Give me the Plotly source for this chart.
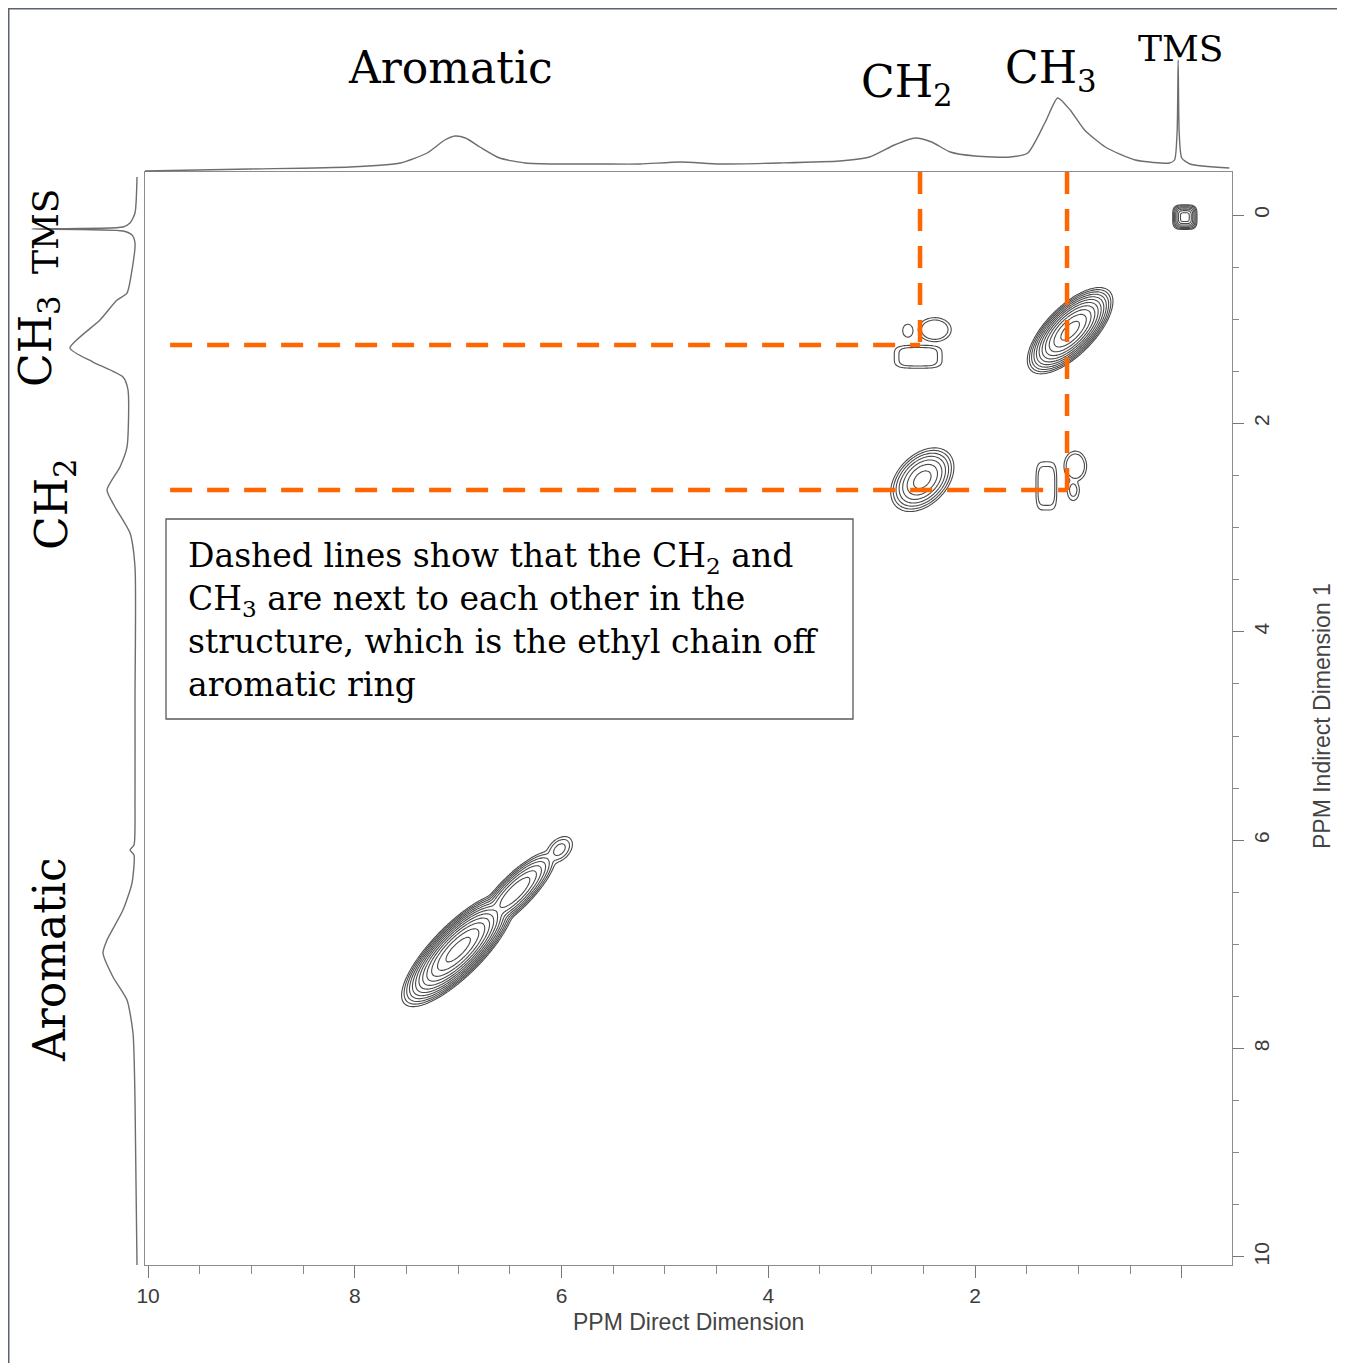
import numpy as np
import plotly.graph_objects as go

W, H = 1345, 1363
OFF = 8  # page body margin: the figure is drawn 8 px in from the window corner

# ---------------- values ----------------
# main 2D axes (ppm), both reversed
x_range = [10.03, -0.486]
y_range = [10.077, -0.413]
tick_ppm = [0, 2, 4, 6, 8, 10]
x_tick_text = ["", "2", "4", "6", "8", "10"]
y_tick_text = ["0", "2", "4", "6", "8", "10"]

# 1D projection above the map (direct dimension)
top_ppm = [10.03, 9.01, 8.05, 7.56, 7.30, 7.13, 7.03, 6.93, 6.79, 6.60, 6.35, 6.02, 5.63,
           5.24, 4.85, 4.47, 3.89, 3.31, 3.02, 2.78, 2.58, 2.42, 2.24, 2.00, 1.66, 1.49,
           1.32, 1.20, 1.08, 0.94, 0.74, 0.45, 0.12, 0.07, 0.045, 0.035, 0.025, 0.0, -0.08, -0.46]
top_int = [1, 3, 5, 9, 19, 32, 36, 34, 25, 14, 9, 8, 8,
           8, 10, 8, 9, 11, 15, 27, 34, 30, 20, 16, 15, 19,
           50, 74, 62, 42, 25, 12, 9, 12, 40, 112, 40, 14, 8, 4]

# 1D projection left of the map (indirect dimension)
left_ppm = [-0.365, -0.02, 0.077, 0.115, 0.134, 0.153, 0.192, 0.269, 0.528, 0.749, 0.816,
            1.008, 1.276, 1.411, 1.555, 1.679, 2.226, 2.418, 2.639, 2.802, 3.052, 3.378,
            4.655, 5.614, 6.046, 6.094, 6.142, 6.411, 6.670, 6.958, 7.083, 7.313, 7.534,
            7.850, 8.493, 10.077]
left_int = [8, 10, 15, 22, 113, 22, 13, 10, 13, 18, 28,
            45, 75, 52, 22, 17, 18, 25, 38, 30, 15, 10,
            10, 10, 11, 15, 11, 13, 22, 38, 42, 32, 18,
            12, 10, 8]

# 2D peaks (COSY map): centre, half-widths, tilt, log-height, edge sharpness, squareness
peak_name = ["TMS", "CH3 diag", "CH2 diag", "CH2xCH3 a", "CH2xCH3 b", "CH2xCH3 c",
             "CH3xCH2 a", "CH3xCH2 b", "CH3xCH2 c", "Ar main", "Ar upper", "Ar tip"]
peak_x = [-0.03, 1.08, 2.51, 2.65, 2.39, 2.55, 1.31, 1.03, 1.05, 7.00, 6.45, 6.02]
peak_y = [0.02, 1.11, 2.54, 1.11, 1.10, 1.36, 2.60, 2.41, 2.64, 7.05, 6.50, 6.09]
peak_s_along = [0.062, 0.23, 0.196, 0.053, 0.138, 0.20, 0.087, 0.095, 0.057, 0.30, 0.28, 0.13]
peak_s_across = [0.062, 0.10, 0.13, 0.066, 0.100, 0.095, 0.20, 0.125, 0.095, 0.10, 0.085, 0.085]
peak_tilt = [0, 45, 45, 0, 0, 0, 0, 0, 0, 45, 45, 45]
peak_logamp = [1.8, 2.73, 1.69, 0.2, 0.45, 0.45, 0.45, 0.45, 0.30, 3.0, 1.8, 0.65]
peak_sharp = [1, 1, 1, 2, 2, 2, 2, 2, 2, 1, 1, 1]
peak_square = [4, 2, 2, 2, 2, 4, 4, 2, 2, 2, 2, 2]

# dashed guide lines (ppm)
guide_x = [2.532, 1.110]      # CH2, CH3 in direct dimension
guide_y = [1.248, 2.639]      # CH3, CH2 in indirect dimension
guide_start_x = 9.787

contour_levels = dict(start=0.0, end=3.2, size=0.26)
map_regions = [(-0.45, 3.3, -0.45, 3.3), (5.3, 8.1, 5.3, 8.2)]

# ---------------- geometry helpers ----------------
def fx(px):
    return (px - OFF) / W


def fy(py):
    return 1 - (py - OFF) / H


x_dom = [fx(145), fx(1232)]
y_dom = [fy(1265), fy(172)]


def log_map(xs, ys):
    X, Y = np.meshgrid(xs, ys)
    terms = []
    for i in range(len(peak_x)):
        dx, dy = X - peak_x[i], Y - peak_y[i]
        th = np.radians(peak_tilt[i])
        u = dx * np.cos(th) + dy * np.sin(th)
        v = -dx * np.sin(th) + dy * np.cos(th)
        m = peak_square[i]
        r = (np.abs(u / peak_s_along[i]) ** m + np.abs(v / peak_s_across[i]) ** m) ** (1.0 / m)
        terms.append(peak_logamp[i] - (r ** 2 / 2) ** peak_sharp[i])
    T = np.array(terms) * 6.0
    mx = T.max(axis=0)
    L = (mx + np.log(np.exp(T - mx).sum(axis=0))) / 6.0
    return np.round(np.clip(L, -1, None), 3)


fig = go.Figure()

step = 0.012
for (x0, x1, y0, y1) in map_regions:
    xs = np.round(np.arange(x0, x1 + step / 2, step), 3)
    ys = np.round(np.arange(y0, y1 + step / 2, step), 3)
    fig.add_trace(go.Contour(
        x=xs, y=ys, z=log_map(xs, ys), xaxis="x", yaxis="y",
        autocontour=False, contours=dict(coloring="lines", **contour_levels),
        colorscale=[[0, "#4a4a4a"], [1, "#4a4a4a"]], showscale=False,
        line=dict(width=1.1, smoothing=1), hoverinfo="skip"))

orange = "#ff6600"
dash = "22px,15px"
guide_line = dict(color=orange, width=4.5, dash=dash)
# vertical guides (from top edge down to the partner peak)
for gx, gy in zip(guide_x, guide_y):
    fig.add_trace(go.Scatter(x=[gx, gx], y=[y_range[1], gy], mode="lines", line=guide_line,
                             xaxis="x", yaxis="y", hoverinfo="skip"))
# horizontal guides
for gx, gy in zip(guide_x, guide_y):
    fig.add_trace(go.Scatter(x=[guide_start_x, gx], y=[gy, gy], mode="lines", line=guide_line,
                             xaxis="x", yaxis="y", hoverinfo="skip"))

# 1D projections
fig.add_trace(go.Scatter(x=top_ppm, y=top_int, mode="lines", xaxis="x2", yaxis="y2",
                         line=dict(color="#6e6e6e", width=1.4, shape="spline", smoothing=0.6),
                         hoverinfo="skip"))
fig.add_trace(go.Scatter(x=left_int, y=left_ppm, mode="lines", xaxis="x3", yaxis="y3",
                         line=dict(color="#6e6e6e", width=1.4, shape="spline", smoothing=0.6),
                         hoverinfo="skip"))

tickfont = dict(family="Liberation Sans", size=21, color="#3c3c3c")
fig.update_layout(
    width=W, height=H, margin=dict(l=0, r=0, t=0, b=0), template="none",
    paper_bgcolor="white", plot_bgcolor="white", showlegend=False, hovermode=False,
    xaxis=dict(domain=x_dom, range=x_range, anchor="y", showline=True, mirror=True,
               linecolor="#8c8c8c", linewidth=1.2, ticks="outside", ticklen=12, tickwidth=1.2,
               tickcolor="#777777", tickmode="array", tickvals=tick_ppm, ticktext=x_tick_text,
               tickfont=tickfont, showgrid=False, zeroline=False, automargin=False,
               minor=dict(tickmode="linear", tick0=0, dtick=0.5, ticks="outside", ticklen=8,
                          tickcolor="#888888", showgrid=False)),
    yaxis=dict(domain=y_dom, range=y_range, anchor="x", side="right", showline=True, mirror=True,
               linecolor="#8c8c8c", linewidth=1.2, ticks="outside", ticklen=11, tickwidth=1.2,
               tickcolor="#777777", tickmode="array", tickvals=tick_ppm, ticktext=y_tick_text,
               tickangle=-90, tickfont=tickfont, showgrid=False, zeroline=False, automargin=False,
               minor=dict(tickmode="linear", tick0=0, dtick=0.5, ticks="outside", ticklen=6,
                          tickcolor="#888888", showgrid=False)),
    xaxis2=dict(domain=x_dom, range=x_range, anchor="y2", visible=False),
    yaxis2=dict(domain=[fy(172), fy(OFF)], range=[0, 172 - OFF], anchor="x2", visible=False),
    xaxis3=dict(domain=[fx(OFF), fx(145)], range=[145 - OFF, 0], anchor="y3", visible=False),
    yaxis3=dict(domain=y_dom, range=y_range, anchor="x3", visible=False),
)

serif = "DejaVu Serif"
labels = [
    ("Aromatic", 450, 67, 0, 44),
    ("CH<sub>2</sub>", 907, 85, 0, 44),
    ("CH<sub>3</sub>", 1051, 70, 0, 44),
    ("TMS", 1181, 49, 0, 36),
    ("TMS", 46, 231, -90, 36),
    ("CH<sub>3</sub>", 38, 341, -90, 44),
    ("CH<sub>2</sub>", 54, 504, -90, 44),
    ("Aromatic", 49, 960, -90, 44),
]
for text, x, y, ang, size in labels:
    fig.add_annotation(text=text, x=fx(x), y=fy(y), xref="paper", yref="paper",
                       xanchor="center", yanchor="middle", textangle=ang, showarrow=False,
                       font=dict(family=serif, size=size, color="black"))

# axis titles
fig.add_annotation(text="PPM Direct Dimension", x=fx(688), y=fy(1322), xref="paper", yref="paper",
                   showarrow=False, xanchor="center", yanchor="middle",
                   font=dict(family="Liberation Sans", size=23, color="#444444"))
fig.add_annotation(text="PPM Indirect Dimension 1", x=fx(1322), y=fy(716), xref="paper", yref="paper",
                   showarrow=False, xanchor="center", yanchor="middle", textangle=-90,
                   font=dict(family="Liberation Sans", size=23, color="#444444"))

# explanatory box
fig.add_shape(type="rect", xref="paper", yref="paper", x0=fx(166), x1=fx(853), y0=fy(719), y1=fy(519),
              line=dict(color="#5a5a5a", width=1.3), fillcolor="white", layer="above")
fig.add_annotation(
    text=("Dashed lines show that the CH<sub>2</sub> and<br>"
          "CH<sub>3</sub> are next to each other in the<br>"
          "structure, which is the ethyl chain off<br>"
          "aromatic ring"),
    x=fx(186), y=fy(620), xref="paper", yref="paper", xanchor="left", yanchor="middle",
    align="left", showarrow=False, font=dict(family=serif, size=33, color="black"))

# outer frame of the slide image
fig.add_shape(type="rect", xref="paper", yref="paper", x0=fx(8.5), x1=fx(W + 20), y0=fy(H + 20), y1=fy(8.5),
              line=dict(color="#5b6370", width=2), fillcolor="rgba(0,0,0,0)", layer="above")

fig.write_html("out.html")
